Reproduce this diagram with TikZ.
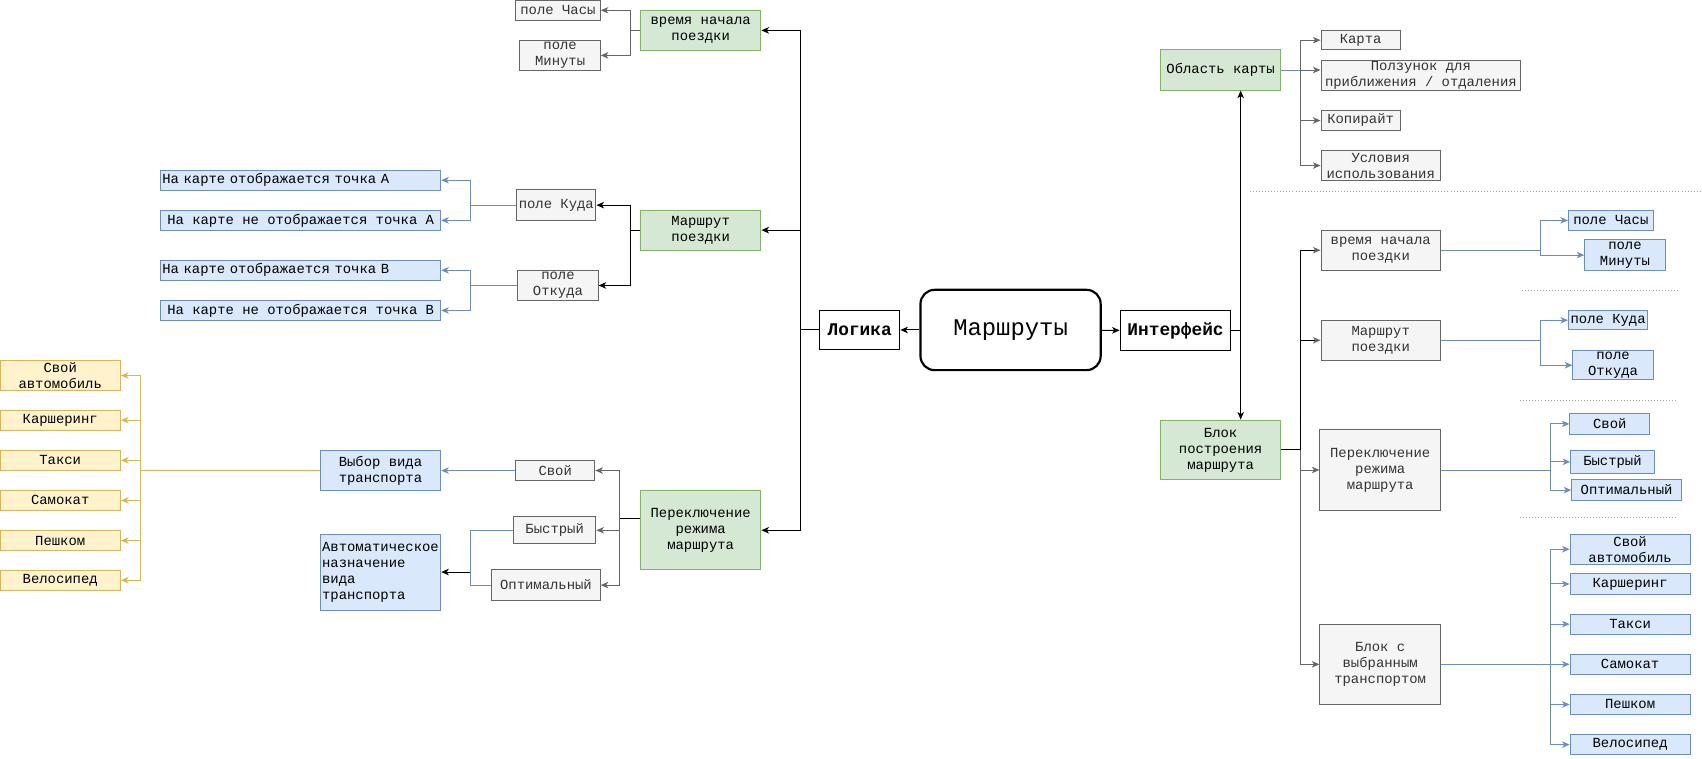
\documentclass[tikz,border=0pt]{standalone}
\usepackage{fontspec}
\usetikzlibrary{arrows.meta}
\newfontfamily\mono{Liberation Mono}
\definecolor{grnF}{HTML}{D5E8D4}
\definecolor{grnD}{HTML}{82B366}
\definecolor{bluF}{HTML}{DAE8FC}
\definecolor{bluD}{HTML}{6C8EBF}
\definecolor{ylwF}{HTML}{FFF2CC}
\definecolor{ylwD}{HTML}{D6B656}
\definecolor{gryF}{HTML}{F5F5F5}
\definecolor{gryD}{HTML}{666666}
\definecolor{gryT}{HTML}{333333}

\begin{document}
\begin{tikzpicture}[x=1pt,y=-1pt,
    box/.style={draw,line width=0.9pt,inner sep=0pt,align=center,
      font=\mono\fontsize{12.8}{14.7}\selectfont},
    wh/.style 2 args={minimum width=#1pt,minimum height=#2pt},
    grn/.style={box,draw=grnD,fill=grnF},
    blu/.style={box,draw=bluD,fill=bluF},
    ylw/.style={box,draw=ylwD,fill=ylwF},
    gry/.style={box,draw=gryD,fill=gryF,text=gryT},
    head/.style={box,font=\mono\bfseries\fontsize{16.4}{19}\selectfont},
    ln/.style={line width=0.9pt},
    arr/.style={ln,-{Stealth[length=7pt,width=6pt,inset=2pt]}},
    garr/.style={arr,color=gryD},
    barr/.style={arr,color=bluD},
    yarr/.style={arr,color=ylwD},
    kgarr/.style={ln,-{Stealth[length=7pt,width=6pt,inset=2pt,color=gryD]}},
    hv/.style={to path={|- (\tikztotarget)}},
    sep/.style={line width=0.8pt,dotted,color=gray!70}]
  \useasboundingbox (0,0) rectangle (1568,699);

  \node[box,wh={166}{74},rounded corners=13pt,line width=2pt,
    font=\mono\fontsize{22}{26}\selectfont] (main) at (931,304) {Маршруты};
  \node[head,wh={74}{36}] (logic) at (792,304) {Логика};
  \node[head,wh={102}{37}] (ui) at (1083,304.5) {Интерфейс};
  \path[arr] (main) edge (logic) (main) edge (ui);

  \node[grn,wh={111}{37}] (tL) at (645.5,28) {время начала\\поездки};
  \node[gry,wh={78}{19}] (hL) at (514,9.5) {поле Часы};
  \node[gry,wh={74}{28}] (mL) at (516,51) {поле\\Минуты};
  \node[grn,wh={111}{37}] (rL) at (645.5,212) {Маршрут\\поездки};
  \node[gry,wh={73}{28}] (toL) at (512.5,189) {поле Куда};
  \node[gry,wh={74}{28}] (frL) at (514,263) {поле\\Откуда};
  \node[blu,wh={258}{18.5},text width=255pt,align=left] (a1) at (277,166) {На карте отображается точка А};
  \node[blu,wh={258}{18.5}] (a2) at (277,203) {На карте не отображается точка А};
  \node[blu,wh={258}{18.5},text width=255pt,align=left] (b1) at (277,249) {На карте отображается точка В};
  \node[blu,wh={258}{18.5}] (b2) at (277,286) {На карте не отображается точка В};
  \node[grn,wh={111}{73}] (sL) at (645.5,488.5) {Переключение\\режима\\маршрута};
  \node[gry,wh={73}{19}] (ownL) at (511.5,433.5) {Свой};
  \node[gry,wh={76}{25}] (fastL) at (511,488.5) {Быстрый};
  \node[gry,wh={100}{28}] (optL) at (503,539) {Оптимальный};
  \node[blu,wh={111}{37}] (choice) at (350.5,433.5) {Выбор вида\\транспорта};
  \node[blu,wh={111}{70},align=left] (auto) at (350.5,527) {Автоматическое\\назначение\\вида\\транспорта};
  \node[ylw,wh={111}{28}] (carL) at (55.5,346) {Свой\\автомобиль};
  \node[ylw,wh={111}{18.5}] (shareL) at (55.5,387) {Каршеринг};
  \node[ylw,wh={111}{18.5}] (taxiL) at (55.5,424) {Такси};
  \node[ylw,wh={111}{18.5}] (scootL) at (55.5,461) {Самокат};
  \node[ylw,wh={111}{18.5}] (walkL) at (55.5,498) {Пешком};
  \node[ylw,wh={111}{18.5}] (bikeL) at (55.5,534.5) {Велосипед};

  \coordinate (jL) at (737,304);
  \coordinate (jt) at (581,28);
  \coordinate (jr) at (581,212);
  \coordinate (jto) at (433,189);
  \coordinate (jfr) at (433,263);
  \coordinate (js) at (571,478);
  \coordinate (ja) at (433,527);
  \coordinate (jy) at (129,433.5);

  \draw[ln] (logic) -- (jL);
  \path[arr] (jL) edge[hv] (tL) edge[hv] (rL) edge[hv] (sL.east);
  \draw[ln,color=gryD] (tL) -- (jt);
  \path[garr] (jt) edge[hv] (hL) edge[hv] (mL);
  \draw[ln] (rL) -- (jr);
  \path[arr] (jr) edge[hv] (toL) edge[hv] (frL);
  \draw[ln,color=bluD] (toL) -- (jto);
  \path[barr] (jto) edge[hv] (a1) edge[hv] (a2);
  \draw[ln,color=bluD] (frL) -- (jfr);
  \path[barr] (jfr) edge[hv] (b1) edge[hv] (b2);
  \draw[ln] ([yshift=10.5pt]sL.west) -- (js);
  \path[garr] (js) edge[hv] (ownL) edge[hv] (fastL) edge[hv] (optL);
  \draw[barr] (ownL) -- (choice);
  \draw[ln,color=bluD] (fastL) -| (ja) |- (optL);
  \draw[arr] (ja) -- (auto);
  \draw[ln,color=ylwD] (choice) -- (jy);
  \path[yarr] (jy) edge[hv] (carL) edge[hv] (shareL) edge[hv] (taxiL)
    edge[hv] (scootL) edge[hv] (walkL) edge[hv] (bikeL);

  \node[grn,wh={111}{37}] (mapR) at (1124.5,64.5) {Область карты};
  \node[gry,wh={73}{18}] (cardR) at (1253.5,37) {Карта};
  \node[gry,wh={184}{27}] (zoomR) at (1309,69.5) {Ползунок для\\приближения / отдаления};
  \node[gry,wh={73}{18}] (copyR) at (1253.5,111) {Копирайт};
  \node[gry,wh={110}{27}] (termsR) at (1272,152.5) {Условия\\использования};
  \node[grn,wh={111}{55}] (buildR) at (1124.5,414.5) {Блок\\построения\\маршрута};
  \node[gry,wh={110}{37}] (tR) at (1272,230.5) {время начала\\поездки};
  \node[gry,wh={110}{37}] (rR) at (1272,313.5) {Маршрут\\поездки};
  \node[gry,wh={111}{74}] (sR) at (1271.5,433) {Переключение\\режима\\маршрута};
  \node[gry,wh={111}{74}] (selR) at (1271.5,612) {Блок с\\выбранным\\транспортом};
  \node[blu,wh={78}{18}] (hR) at (1484,203) {поле Часы};
  \node[blu,wh={74}{28}] (mR) at (1497,235) {поле\\Минуты};
  \node[blu,wh={73}{18}] (toR) at (1481.5,295) {поле Куда};
  \node[blu,wh={74}{27}] (frR) at (1486,336.5) {поле\\Откуда};
  \node[blu,wh={73.5}{19}] (ownR) at (1483,390.5) {Свой};
  \node[blu,wh={77}{21}] (fastR) at (1485.5,425.5) {Быстрый};
  \node[blu,wh={101}{19}] (optR) at (1498.5,451.5) {Оптимальный};
  \node[blu,wh={110.5}{28}] (carR) at (1501.75,506) {Свой\\автомобиль};
  \node[blu,wh={110.5}{18.5}] (shareR) at (1501.75,538) {Каршеринг};
  \node[blu,wh={110.5}{18.5}] (taxiR) at (1501.75,575) {Такси};
  \node[blu,wh={110.5}{18.5}] (scootR) at (1501.75,612) {Самокат};
  \node[blu,wh={110.5}{18.5}] (walkR) at (1501.75,649) {Пешком};
  \node[blu,wh={110.5}{18.5}] (bikeR) at (1501.75,686) {Велосипед};

  \coordinate (jU) at (1143,304.5);
  \coordinate (jM) at (1198,64.5);
  \coordinate (jB) at (1198,414.5);
  \coordinate (jtR) at (1419,230.5);
  \coordinate (jrR) at (1419,313.5);
  \coordinate (jsR) at (1428,433);
  \coordinate (jselR) at (1428,612);

  \draw[ln] (ui) -- (jU);
  \path[arr] (jU) edge (jU |- mapR.south) edge (jU |- buildR.north);
  \draw[ln,color=bluD] (mapR) -- (jM);
  \path[garr] (jM) edge[hv] (cardR) edge (jM -| zoomR.west) edge[hv] (copyR) edge[hv] (termsR);
  \draw[ln] (buildR) -- (jB);
  \path[kgarr] (jB) edge[hv] (tR) edge[hv] (rR);
  \path[garr] (jB) edge[hv] (sR) edge[hv] (selR);
  \draw[ln,color=bluD] (tR) -- (jtR);
  \path[barr] (jtR) edge[hv] (hR) edge[hv] (mR);
  \draw[ln,color=bluD] (rR) -- (jrR);
  \path[barr] (jrR) edge[hv] (toR) edge[hv] (frR);
  \draw[ln,color=bluD] (sR) -- (jsR);
  \path[barr] (jsR) edge[hv] (ownR) edge[hv] (fastR) edge[hv] (optR);
  \draw[ln,color=bluD] (selR) -- (jselR);
  \path[barr] (jselR) edge[hv] (carR) edge[hv] (shareR) edge[hv] (taxiR)
    edge[hv] (scootR) edge[hv] (walkR) edge[hv] (bikeR);

  \draw[sep] (1151.5,176) -- (1568,176);
  \draw[sep] (1402,267.5) -- (1547,267.5);
  \draw[sep] (1400.5,368.5) -- (1545.5,368.5);
  \draw[sep] (1400.5,476.5) -- (1545.5,476.5);
\end{tikzpicture}
\end{document}
